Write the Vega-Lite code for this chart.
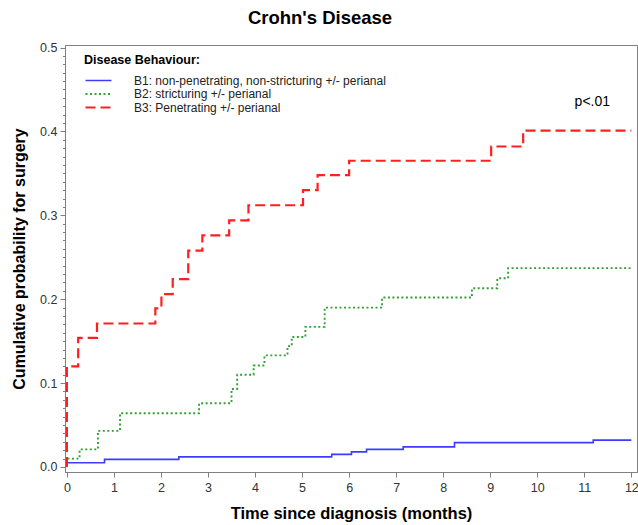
{
  "$schema": "https://vega.github.io/schema/vega-lite/v6.json",
  "width": 572,
  "height": 427,
  "autosize": "none",
  "padding": {"left": 65, "top": 45, "right": 1, "bottom": 53},
  "background": "white",
  "config": {
    "font": "Liberation Sans",
    "view": {"stroke": "#808080", "strokeWidth": 1}
  },
  "title": {
    "text": "Crohn's Disease",
    "fontSize": 18.5,
    "fontWeight": "bold",
    "color": "#000000",
    "anchor": "middle",
    "dx": -31,
    "offset": 14
  },
  "resolve": {"axis": {"y": "independent"}},
  "layer": [
    {
      "data": {
        "values": [
          {"group": "B1: non-penetrating, non-stricturing +/- perianal", "k": 1, "t": 0, "p": 0},
          {"group": "B1: non-penetrating, non-stricturing +/- perianal", "k": 2, "t": 0, "p": 0.005},
          {"group": "B1: non-penetrating, non-stricturing +/- perianal", "k": 3, "t": 0.8, "p": 0.009},
          {"group": "B1: non-penetrating, non-stricturing +/- perianal", "k": 4, "t": 2.38, "p": 0.012},
          {"group": "B1: non-penetrating, non-stricturing +/- perianal", "k": 5, "t": 5.63, "p": 0.015},
          {"group": "B1: non-penetrating, non-stricturing +/- perianal", "k": 6, "t": 6.05, "p": 0.018},
          {"group": "B1: non-penetrating, non-stricturing +/- perianal", "k": 7, "t": 6.37, "p": 0.021},
          {"group": "B1: non-penetrating, non-stricturing +/- perianal", "k": 8, "t": 7.15, "p": 0.024},
          {"group": "B1: non-penetrating, non-stricturing +/- perianal", "k": 9, "t": 8.24, "p": 0.029},
          {"group": "B1: non-penetrating, non-stricturing +/- perianal", "k": 10, "t": 11.19, "p": 0.032},
          {"group": "B1: non-penetrating, non-stricturing +/- perianal", "k": 11, "t": 12, "p": 0.032},

          {"group": "B2: stricturing +/- perianal", "k": 1, "t": 0, "p": 0},
          {"group": "B2: stricturing +/- perianal", "k": 2, "t": 0, "p": 0.010},
          {"group": "B2: stricturing +/- perianal", "k": 3, "t": 0.27, "p": 0.021},
          {"group": "B2: stricturing +/- perianal", "k": 4, "t": 0.66, "p": 0.043},
          {"group": "B2: stricturing +/- perianal", "k": 5, "t": 1.13, "p": 0.064},
          {"group": "B2: stricturing +/- perianal", "k": 6, "t": 2.81, "p": 0.076},
          {"group": "B2: stricturing +/- perianal", "k": 7, "t": 3.5, "p": 0.093},
          {"group": "B2: stricturing +/- perianal", "k": 8, "t": 3.62, "p": 0.110},
          {"group": "B2: stricturing +/- perianal", "k": 9, "t": 3.97, "p": 0.121},
          {"group": "B2: stricturing +/- perianal", "k": 10, "t": 4.2, "p": 0.133},
          {"group": "B2: stricturing +/- perianal", "k": 11, "t": 4.69, "p": 0.144},
          {"group": "B2: stricturing +/- perianal", "k": 12, "t": 4.78, "p": 0.155},
          {"group": "B2: stricturing +/- perianal", "k": 13, "t": 5.07, "p": 0.167},
          {"group": "B2: stricturing +/- perianal", "k": 14, "t": 5.48, "p": 0.190},
          {"group": "B2: stricturing +/- perianal", "k": 15, "t": 6.70, "p": 0.202},
          {"group": "B2: stricturing +/- perianal", "k": 16, "t": 8.61, "p": 0.213},
          {"group": "B2: stricturing +/- perianal", "k": 17, "t": 9.15, "p": 0.225},
          {"group": "B2: stricturing +/- perianal", "k": 18, "t": 9.38, "p": 0.237},
          {"group": "B2: stricturing +/- perianal", "k": 19, "t": 12, "p": 0.237},

          {"group": "B3: Penetrating +/- perianal", "k": 1, "t": 0, "p": 0},
          {"group": "B3: Penetrating +/- perianal", "k": 2, "t": 0, "p": 0.120},
          {"group": "B3: Penetrating +/- perianal", "k": 3, "t": 0.24, "p": 0.154},
          {"group": "B3: Penetrating +/- perianal", "k": 4, "t": 0.64, "p": 0.171},
          {"group": "B3: Penetrating +/- perianal", "k": 5, "t": 1.88, "p": 0.189},
          {"group": "B3: Penetrating +/- perianal", "k": 6, "t": 2.01, "p": 0.206},
          {"group": "B3: Penetrating +/- perianal", "k": 7, "t": 2.25, "p": 0.224},
          {"group": "B3: Penetrating +/- perianal", "k": 8, "t": 2.58, "p": 0.258},
          {"group": "B3: Penetrating +/- perianal", "k": 9, "t": 2.88, "p": 0.276},
          {"group": "B3: Penetrating +/- perianal", "k": 10, "t": 3.45, "p": 0.294},
          {"group": "B3: Penetrating +/- perianal", "k": 11, "t": 3.86, "p": 0.312},
          {"group": "B3: Penetrating +/- perianal", "k": 12, "t": 5.02, "p": 0.330},
          {"group": "B3: Penetrating +/- perianal", "k": 13, "t": 5.33, "p": 0.348},
          {"group": "B3: Penetrating +/- perianal", "k": 14, "t": 6.0, "p": 0.365},
          {"group": "B3: Penetrating +/- perianal", "k": 15, "t": 9.02, "p": 0.382},
          {"group": "B3: Penetrating +/- perianal", "k": 16, "t": 9.7, "p": 0.401},
          {"group": "B3: Penetrating +/- perianal", "k": 17, "t": 12, "p": 0.401}
        ]
      },
      "mark": {"type": "line", "interpolate": "step-after", "clip": true},
      "encoding": {
        "x": {
          "field": "t",
          "type": "quantitative",
          "scale": {"domain": [-0.04, 12.12], "nice": false, "zero": false},
          "axis": {
            "title": "Time since diagnosis (months)",
            "values": [0, 1, 2, 3, 4, 5, 6, 7, 8, 9, 10, 11, 12],
            "format": "d",
            "grid": false,
            "domainColor": "#808080",
            "tickColor": "#808080",
            "tickSize": 5,
            "labelPadding": 4,
            "labelFontSize": 12.5,
            "labelColor": "#333333",
            "labelFlush": false,
            "labelOverlap": false,
            "titleFontSize": 16.5,
            "titleFontWeight": "bold",
            "titleColor": "#000000",
            "titlePadding": 12
          }
        },
        "y": {
          "field": "p",
          "type": "quantitative",
          "scale": {"domain": [-0.006, 0.503], "nice": false, "zero": false},
          "axis": {
            "orient": "left",
            "title": "Cumulative probability for surgery",
            "values": [0, 0.1, 0.2, 0.3, 0.4, 0.5],
            "format": ".1f",
            "tickSize": 5,
            "grid": false,
            "domainColor": "#808080",
            "tickColor": "#808080",
            "labelPadding": 3,
            "labelFontSize": 12.5,
            "labelColor": "#333333",
            "labelFlush": false,
            "labelOverlap": false,
            "titleFontSize": 16,
            "titleFontWeight": "bold",
            "titleColor": "#000000",
            "titlePadding": 12
          }
        },
        "color": {
          "field": "group",
          "type": "nominal",
          "scale": {
            "domain": ["B1: non-penetrating, non-stricturing +/- perianal", "B2: stricturing +/- perianal", "B3: Penetrating +/- perianal"],
            "range": ["#3c3cff", "#33a033", "#ff1f1f"]
          },
          "legend": {
            "title": "Disease Behaviour:",
            "orient": "none",
            "legendX": 19,
            "legendY": 9,
            "symbolType": "stroke",
            "symbolSize": 676,
            "symbolStrokeWidth": 2,
            "clipHeight": 12,
            "labelOffset": 21,
            "labelFontSize": 12,
            "labelColor": "#222222",
            "labelLimit": 400,
            "titleFontSize": 12.5,
            "titleFontWeight": "bold",
            "titleColor": "#000000",
            "titlePadding": 8,
            "rowPadding": 1.5
          }
        },
        "strokeDash": {
          "field": "group",
          "type": "nominal",
          "scale": {
            "domain": ["B1: non-penetrating, non-stricturing +/- perianal", "B2: stricturing +/- perianal", "B3: Penetrating +/- perianal"],
            "range": [[1, 0], [2, 2.5], [10, 5]]
          },
          "legend": {
            "title": "Disease Behaviour:",
            "orient": "none",
            "legendX": 19,
            "legendY": 9,
            "symbolType": "stroke",
            "symbolSize": 676,
            "symbolStrokeWidth": 2,
            "clipHeight": 12,
            "labelOffset": 21,
            "labelFontSize": 12,
            "labelColor": "#222222",
            "labelLimit": 400,
            "titleFontSize": 12.5,
            "titleFontWeight": "bold",
            "titleColor": "#000000",
            "titlePadding": 8,
            "rowPadding": 1.5
          }
        },
        "strokeWidth": {
          "field": "group",
          "type": "nominal",
          "scale": {
            "domain": ["B1: non-penetrating, non-stricturing +/- perianal", "B2: stricturing +/- perianal", "B3: Penetrating +/- perianal"],
            "range": [1.6, 2.2, 2.4]
          },
          "legend": null
        },
        "order": {"field": "k", "type": "quantitative"}
      }
    },
    {
      "data": {"values": [{"label": "p<.01", "t": 11.17, "p": 0.4345}]},
      "mark": {"type": "text", "fontSize": 14, "color": "#000000", "align": "center", "baseline": "middle"},
      "encoding": {
        "x": {"field": "t", "type": "quantitative"},
        "y": {
          "field": "p",
          "type": "quantitative",
          "axis": {
            "orient": "left",
            "title": null,
            "values": [0.01, 0.02, 0.03, 0.04, 0.05, 0.06, 0.07, 0.08, 0.09, 0.11, 0.12, 0.13, 0.14, 0.15, 0.16, 0.17, 0.18, 0.19, 0.21, 0.22, 0.23, 0.24, 0.25, 0.26, 0.27, 0.28, 0.29, 0.31, 0.32, 0.33, 0.34, 0.35, 0.36, 0.37, 0.38, 0.39, 0.41, 0.42, 0.43, 0.44, 0.45, 0.46, 0.47, 0.48, 0.49],
            "labels": false,
            "domain": false,
            "grid": false,
            "tickSize": 2.5,
            "tickColor": "#808080"
          }
        },
        "text": {"field": "label"}
      }
    }
  ]
}
